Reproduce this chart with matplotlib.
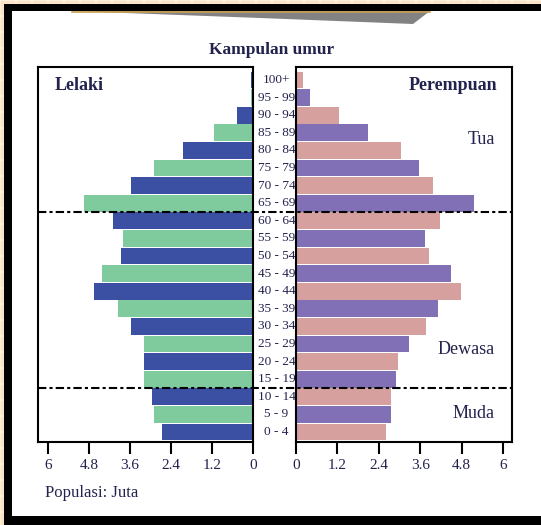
import numpy as np
import matplotlib
matplotlib.use('Agg')
import matplotlib.pyplot as plt
from matplotlib.patches import Rectangle, Polygon
from matplotlib.lines import Line2D
from matplotlib import transforms

# data (juta), dari bawah (0 - 4) ke atas (100+)
age_groups = ['0 - 4', '5 - 9', '10 - 14', '15 - 19', '20 - 24', '25 - 29', '30 - 34',
              '35 - 39', '40 - 44', '45 - 49', '50 - 54', '55 - 59', '60 - 64', '65 - 69',
              '70 - 74', '75 - 79', '80 - 84', '85 - 89', '90 - 94', '95 - 99', '100+']
male = [2.65, 2.89, 2.96, 3.19, 3.19, 3.19, 3.58, 3.96, 4.64, 4.41, 3.87,
        3.81, 4.11, 4.94, 3.58, 2.89, 2.06, 1.14, 0.46, 0.05, 0.07]
female = [2.60, 2.74, 2.74, 2.90, 2.97, 3.28, 3.77, 4.11, 4.77, 4.48, 3.86,
          3.74, 4.18, 5.16, 3.96, 3.57, 3.04, 2.10, 1.25, 0.41, 0.19]
tick_vals = [0, 1.2, 2.4, 3.6, 4.8, 6]
tick_labels = ['0', '1.2', '2.4', '3.6', '4.8', '6']
group_lines = [12.5, 2.5]
group_names = ['Tua', 'Dewasa', 'Muda']

plt.rcParams['font.family'] = ['Liberation Serif', 'DejaVu Serif']
txt = '#22224e'

W, H = 541, 525
fig = plt.figure(figsize=(W / 100, H / 100), dpi=100)
fig.patch.set_facecolor('#fbe3c6')


def px(x, y):
    return x / W, 1 - y / H


# latar belakang bergaris
for k in range(0, W, 16):
    fig.add_artist(Line2D([k / W, k / W], [0, 1], color='#fff2e2', lw=1.2, zorder=-10))
for k in range(0, H, 16):
    fig.add_artist(Line2D([0, 1], [1 - k / H] * 2, color='#fff2e2', lw=1.2, zorder=-10))

# bingkai hitam + putih
x0, y0 = px(4, 525)
fig.add_artist(Rectangle((x0, y0), 1.1, 1 - 4 / H - y0, transform=fig.transFigure,
                         facecolor='black', edgecolor='none', zorder=-5))
x1, y1 = px(12, 516)
fig.add_artist(Rectangle((x1, y1), 1.1, (1 - 11 / H) - y1, transform=fig.transFigure,
                         facecolor='white', edgecolor='none', zorder=-4))
# pita abu-abu di atas
wedge = [px(72, 11), px(430, 11), px(413, 24), px(260, 18)]
fig.add_artist(Polygon(wedge, closed=True, transform=fig.transFigure,
                       facecolor='#828282', edgecolor='none', zorder=-3))
fig.add_artist(Line2D([72 / W, 430 / W], [1 - 11.5 / H] * 2, color='#c9a055', lw=1.2, zorder=-2))

# sumbu kiri & kanan
ax_l = fig.add_axes([38 / W, 1 - 442 / H, 215 / W, 375 / H])
ax_r = fig.add_axes([296 / W, 1 - 442 / H, 216 / W, 375 / H])

y = np.arange(len(age_groups))
male_cols = ['#3b4fa3' if i % 2 == 0 else '#7fcb9e' for i in y]
female_cols = ['#d6a09f' if i % 2 == 0 else '#8270b6' for i in y]

ax_l.barh(y, male, height=0.96, color=male_cols)
ax_r.barh(y, female, height=0.96, color=female_cols)

ax_l.set_xlim(6.29, 0)
ax_r.set_xlim(0, 6.26)
for ax in (ax_l, ax_r):
    ax.set_ylim(-0.57, 20.74)
    ax.set_yticks([])
    ax.set_xticks(tick_vals)
    ax.set_xticklabels(tick_labels)
    ax.tick_params(axis='x', direction='out', length=8.5, width=1.5, color='black',
                   labelsize=11, labelcolor=txt, pad=4)
    for s in ax.spines.values():
        s.set_linewidth(1.5)

# label kumpulan umur di tengah (di bawah sumbu kanan)
for i, lab in enumerate(age_groups):
    ax_l.text(276.5 / W, i, lab, transform=transforms.blended_transform_factory(fig.transFigure, ax_l.transData),
              ha='center', va='center', fontsize=9.5, color=txt, clip_on=False)

# garis pemisah kumpulan
blend = transforms.blended_transform_factory(fig.transFigure, ax_l.transData)
for gy in group_lines:
    fig.add_artist(Line2D([38 / W, 512 / W], [gy, gy], transform=blend, color='black',
                          lw=1.5, dashes=(4, 1.5, 1.5, 1.5), zorder=5))

fig.text(*px(272, 50), 'Kampulan umur', ha='center', va='center', fontsize=12.5,
         fontweight='bold', color=txt)
fig.text(*px(55, 86), 'Lelaki', ha='left', va='center', fontsize=13, fontweight='bold', color=txt)
fig.text(*px(497, 86), 'Perempuan', ha='right', va='center', fontsize=13, fontweight='bold', color=txt)
fig.text(*px(495, 139), group_names[0], ha='right', va='center', fontsize=13, color=txt)
fig.text(*px(495, 349), group_names[1], ha='right', va='center', fontsize=13, color=txt)
fig.text(*px(495, 414), group_names[2], ha='right', va='center', fontsize=13, color=txt)
fig.text(*px(45, 493), 'Populasi: Juta', ha='left', va='center', fontsize=12, color=txt)

fig.savefig('out.png', dpi=100, facecolor=fig.get_facecolor())
